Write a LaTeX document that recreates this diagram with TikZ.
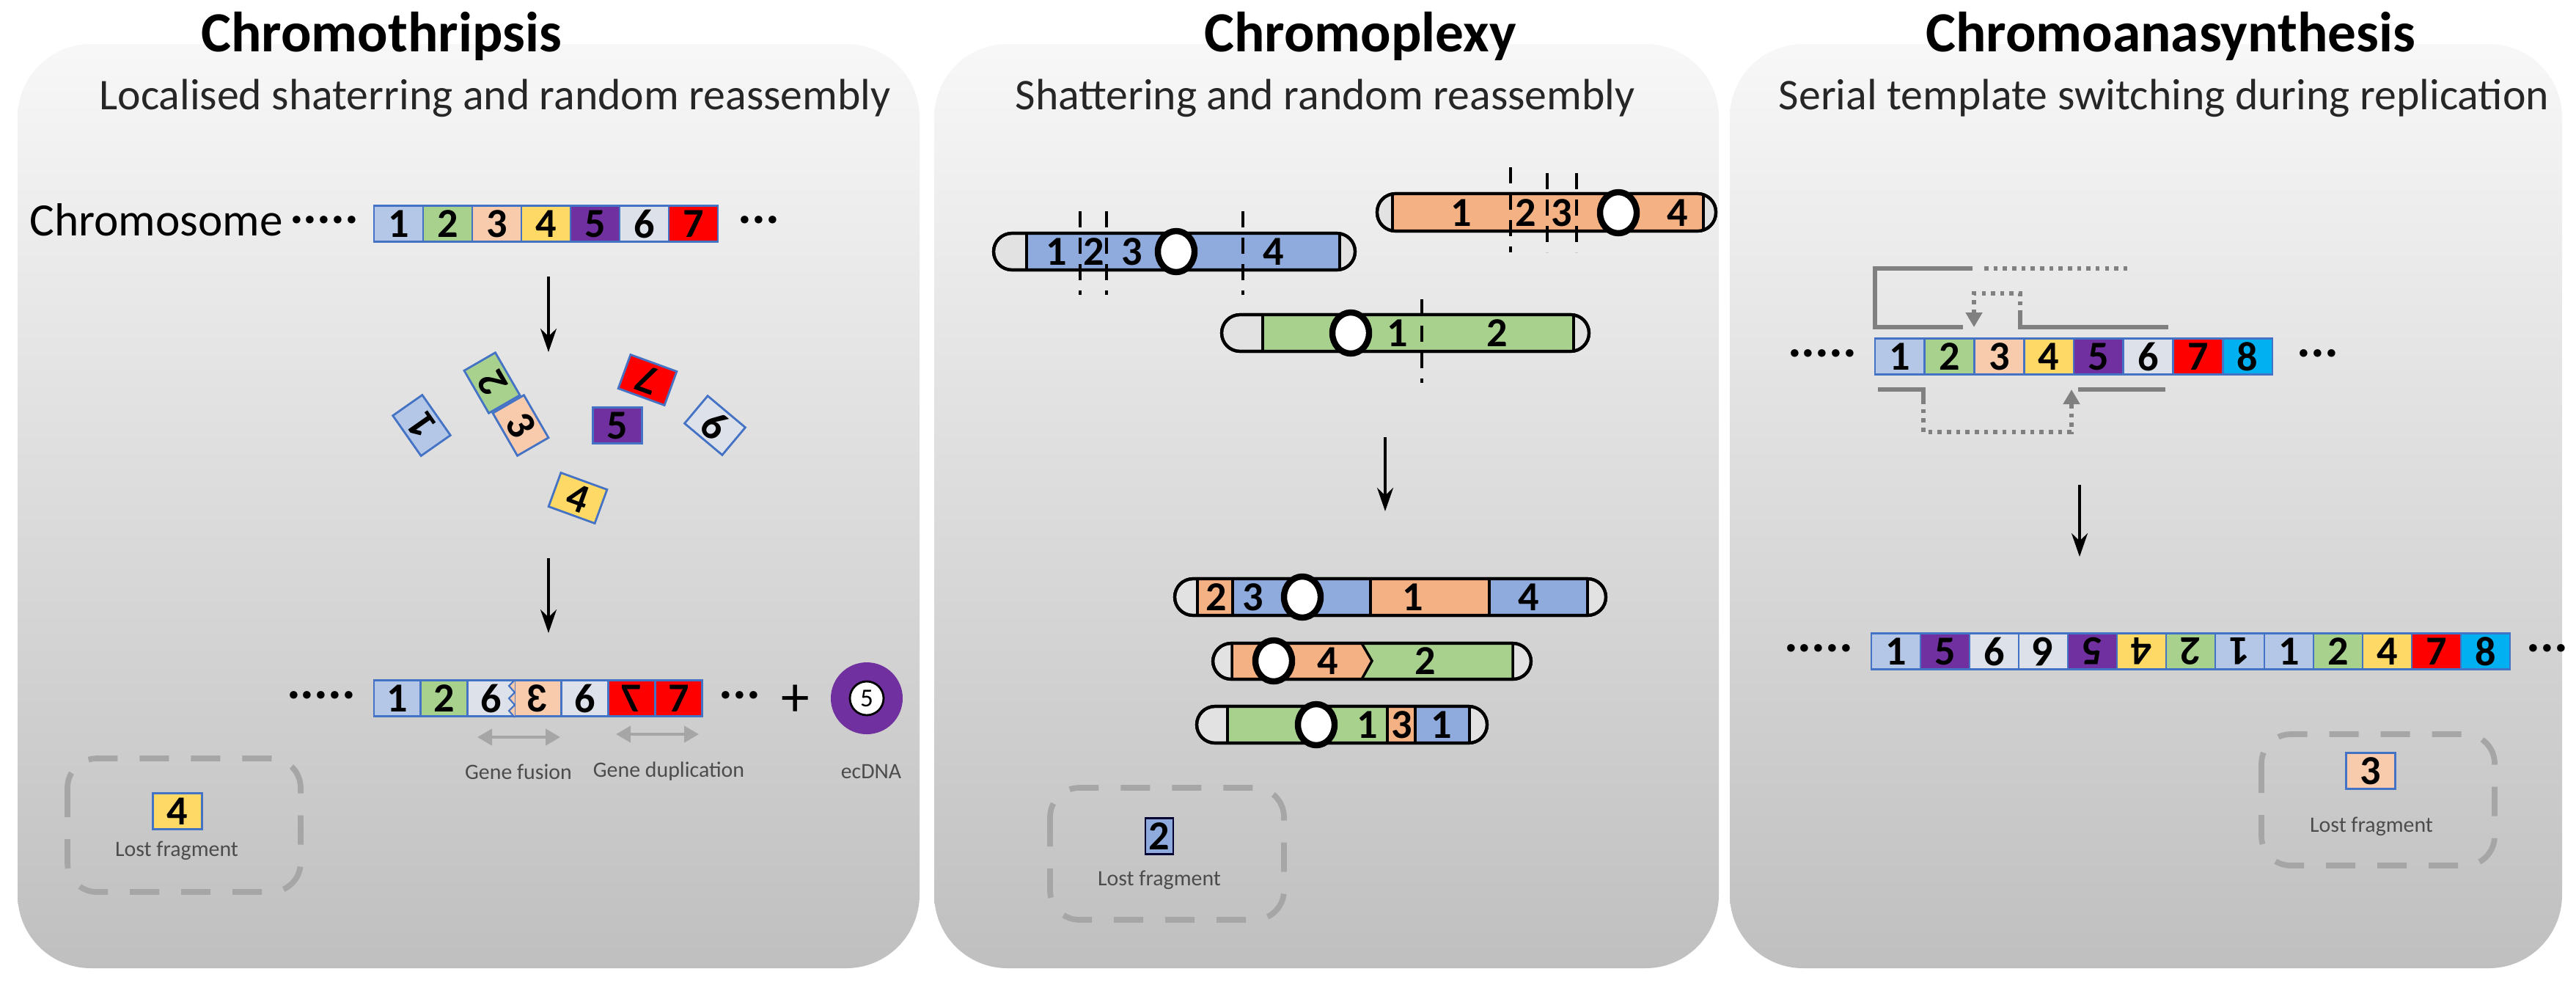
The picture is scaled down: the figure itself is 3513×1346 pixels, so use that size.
\documentclass[tikz,border=0pt]{standalone}
\usepackage{fontspec}
\usepackage{graphicx}
\setmainfont{Carlito}
\usetikzlibrary{shapes.geometric,arrows.meta,positioning}
\definecolor{cb}{HTML}{B4C7E7}
\definecolor{cg}{HTML}{A9D18E}
\definecolor{cp}{HTML}{F8CBAD}
\definecolor{cy}{HTML}{FFD966}
\definecolor{cpu}{HTML}{7030A0}
\definecolor{cgy}{HTML}{DCE1EA}
\definecolor{cr}{HTML}{FF0000}
\definecolor{cc}{HTML}{00B0F0}
\definecolor{bbord}{HTML}{4472C4}
\definecolor{pblue}{HTML}{8FAADC}
\definecolor{porange}{HTML}{F4B183}
\definecolor{capg}{HTML}{E2E2E2}
\definecolor{dgray}{HTML}{A6A6A6}
\definecolor{tgray}{HTML}{808080}
\newcommand{\flipn}[1]{\rotatebox[origin=c]{180}{#1}}
\newcommand{\mirn}[1]{\reflectbox{#1}}

\begin{document}
\begin{tikzpicture}[
	x=0.1mm, y=-0.1mm,
	panel/.style = {rounded corners=10mm, top color=white!97!black,
		middle color=black!9, bottom color=black!25},
	title/.style = {font=\fontsize{22}{26}\selectfont\bfseries},
	sub/.style = {font=\fontsize{17}{20}\selectfont, text=black!85},
	seg/.style = {draw=bbord, line width=0.8pt, minimum width=6.7mm,
		minimum height=4.9mm, inner sep=0pt,
		font=\fontsize{16}{16}\selectfont\bfseries},
	lab/.style = {inner sep=0pt, font=\fontsize{16}{16}\selectfont\bfseries},
	small/.style = {inner sep=0pt, text=black!70, font=\fontsize{8.5}{10}\selectfont},
	dots/.style = {inner sep=0pt, font=\fontsize{20}{20}\selectfont\bfseries},
	lost/.style = {draw=dgray, line width=2.2pt, dash pattern=on 4mm off 3mm,
		rounded corners=4mm},
	arr/.style = {line width=1pt, -{Stealth[length=3.2mm,width=2.2mm]}},
	garr/.style = {draw=dgray, line width=1.2pt,
		{Triangle[length=2mm,width=2.2mm]}-{Triangle[length=2mm,width=2.2mm]}},
	chr/.style = {draw=black, line width=1.2pt, rounded corners=2.5mm},
	cen/.style = {ellipse, draw=black, fill=white, line width=2.4pt,
		minimum width=5mm, minimum height=5.6mm, inner sep=0pt},
	cut/.style = {line width=1.2pt, dash pattern=on 2.2mm off 1.4mm},
	tmpl/.style = {draw=tgray, line width=1.8pt},
	tdot/.style = {draw=tgray, line width=1.6pt, dotted},
	tarr/.style = {tdot, -{Triangle[length=2mm,width=2.2mm,fill=tgray]}}]
	\useasboundingbox (0,0) rectangle (3513,1346);

	% panels
	\shade[panel] (24,60) rectangle (1254,1320);
	\shade[panel] (1274,60) rectangle (2344,1320);
	\shade[panel] (2359,60) rectangle (3494,1320);

	\node[title] (t1) at (520,49) {Chromothripsis};
	\node[title] (t2) at (1855,49) {Chromoplexy};
	\node[title] (t3) at (2960,49) {Chromoanasynthesis};
	\node[sub] (s1) at (675,134) {Localised shaterring and random reassembly};
	\node[sub] (s2) at (1807,134) {Shattering and random reassembly};
	\node[sub] (s3) at (2951,134) {Serial template switching during replication};

	% ---- chromothripsis
	\node[inner sep=0pt, font=\fontsize{18}{20}\selectfont] (chrom) at (213,300) {Chromosome};
	\node[dots] (d1) at (442,300) {.....};
	\foreach \c/\t [count=\i] in {cb/1,cg/2,cp/3,cy/4,cpu/5,cgy/6,cr/7}
		\node[seg, fill=\c] (c\i) at ({476.5+67*\i},305) {\t};
	\node[dots] (d2) at (1035,300) {...};
	\coordinate (a1s) at (748,377);
	\coordinate (a1e) at (748,480);
	\draw[arr] (a1s) -- (a1e);

	\node[seg, fill=cb, rotate=125] (f1) at (575,580) {1};
	\node[seg, fill=cg, rotate=120] (f2) at (671,522) {2};
	\node[seg, fill=cp, rotate=-60] (f3) at (710,580) {3};
	\node[seg, fill=cr, rotate=160] (f7) at (883,518) {7};
	\node[seg, fill=cpu] (f5) at (842,580) {5};
	\node[seg, fill=cgy, rotate=-40] (f6) at (975,580) {6};
	\node[seg, fill=cy, rotate=-20] (f4) at (788,679) {4};

	\coordinate (a2s) at (748,761);
	\coordinate (a2e) at (748,863);
	\draw[arr] (a2s) -- (a2e);

	\node[dots] (d3) at (438,948) {.....};
	\foreach \c/\t [count=\i] in {cb/1,cg/2,cgy/6,cp/{\mirn{3}},cgy/6,cr/{\mirn{7}},cr/7}
		\node[seg, fill=\c, minimum width=6.39mm] (r\i) at ({478+63.9*\i},952) {\t};
	\draw[draw=bbord, fill=cp, line width=0.6pt] (702,927) -- (694,935) -- (702,944)
		-- (694,952) -- (702,961) -- (694,969) -- (702,978);
	\node[dots] (d4) at (1009,948) {...};
	\node[inner sep=0pt, font=\fontsize{22}{22}\selectfont] (plus) at (1085,955) {+};
	\node[circle, fill=cpu, minimum size=9.8mm, inner sep=0pt] (ec) at (1182,952) {};
	\node[circle, fill=white, draw=black, line width=0.8pt, minimum size=4.6mm,
		inner sep=0pt, font=\fontsize{10}{10}\selectfont] (ec5) at (ec) {5};
	\draw[garr] (651,1005) -- (764,1005);
	\draw[garr] (840,1001) -- (953,1001);
	\node[small] (gf) at (707,1052) {Gene fusion};
	\node[small] (gd) at (912,1052) {Gene duplication};
	\node[small] (ecl) at (1188,1052) {ecDNA};

	\draw[lost] (92,1034) rectangle (410,1216);
	\node[seg, fill=cy] (l1) at (242,1106) {4};
	\node[small] (l1t) at (241,1160) {Lost fragment};

	% ---- chromoplexy
	% blue
	\draw[chr, fill=capg] (1355,318) rectangle (1848,368);
	\fill[pblue] (1400,318) rectangle (1827,368);
	\draw[chr] (1355,318) rectangle (1848,368);
	\draw[line width=1.2pt] (1400,318) -- (1400,368) (1827,318) -- (1827,368);
	\node[lab] (b1) at (1441,343) {1};
	\node[lab] (b2) at (1492,343) {2};
	\node[lab] (b3) at (1544,343) {3};
	\node[lab] (b4) at (1737,343) {4};
	\node[cen] (bc) at (1604,343) {};
	\draw[cut] (1473,288) -- (1473,402);
	\draw[cut] (1509,288) -- (1509,402);
	\draw[cut] (1695,288) -- (1695,402);
	% orange
	\draw[chr, fill=capg] (1878,264) rectangle (2340,315);
	\fill[porange] (1899,264) rectangle (2323,315);
	\draw[chr] (1878,264) rectangle (2340,315);
	\draw[line width=1.2pt] (1899,264) -- (1899,315) (2323,264) -- (2323,315);
	\node[lab] (o1) at (1993,290) {1};
	\node[lab] (o2) at (2081,290) {2};
	\node[lab] (o3) at (2130,290) {3};
	\node[lab] (o4) at (2288,290) {4};
	\node[cen] (oc) at (2207,290) {};
	\draw[cut] (2060,228) -- (2060,344);
	\draw[cut] (2110,236) -- (2110,344);
	\draw[cut] (2150,236) -- (2150,344);
	% green
	\draw[chr, fill=capg] (1666,429) rectangle (2167,479);
	\fill[cg] (1722,429) rectangle (2146,479);
	\draw[chr] (1666,429) rectangle (2167,479);
	\draw[line width=1.2pt] (1722,429) -- (1722,479) (2146,429) -- (2146,479);
	\node[lab] (g1) at (1906,454) {1};
	\node[lab] (g2) at (2042,454) {2};
	\node[cen] (gc) at (1842,454) {};
	\draw[cut] (1939,408) -- (1939,522);

	\coordinate (a3s) at (1889,596);
	\coordinate (a3e) at (1889,697);
	\draw[arr] (a3s) -- (a3e);

	% result 1
	\draw[chr, fill=capg] (1602,789) rectangle (2190,839);
	\fill[porange] (1633,789) rectangle (1681,839);
	\fill[pblue] (1681,789) rectangle (1869,839);
	\fill[porange] (1869,789) rectangle (2031,839);
	\fill[pblue] (2031,789) rectangle (2165,839);
	\draw[chr] (1602,789) rectangle (2190,839);
	\draw[line width=1pt] (1633,789) -- (1633,839) (1681,789) -- (1681,839)
		(1869,789) -- (1869,839) (2031,789) -- (2031,839) (2165,789) -- (2165,839);
	\node[lab] (x2) at (1659,814) {2};
	\node[lab] (x3) at (1709,814) {3};
	\node[lab] (x1) at (1927,814) {1};
	\node[lab] (x4) at (2085,814) {4};
	\node[cen] (xc) at (1776,814) {};
	% result 2
	\draw[chr, fill=capg] (1654,877) rectangle (2088,926);
	\fill[porange] (1680,877) -- (1857,877) -- (1871,901) -- (1857,926) -- (1680,926) -- cycle;
	\fill[cg] (1857,877) -- (2063,877) -- (2063,926) -- (1857,926) -- (1871,901) -- cycle;
	\draw[chr] (1654,877) rectangle (2088,926);
	\draw[line width=1pt] (1680,877) -- (1680,926) (2063,877) -- (2063,926)
		(1857,877) -- (1871,901) -- (1857,926);
	\node[lab] (y4) at (1811,901) {4};
	\node[lab] (y2) at (1944,901) {2};
	\node[cen] (yc) at (1737,901) {};
	% result 3
	\draw[chr, fill=capg] (1632,963) rectangle (2028,1013);
	\fill[cg] (1674,963) rectangle (1892,1013);
	\fill[porange] (1892,963) rectangle (1930,1013);
	\fill[pblue] (1930,963) rectangle (2004,1013);
	\draw[chr] (1632,963) rectangle (2028,1013);
	\draw[line width=1pt] (1674,963) -- (1674,1013) (1892,963) -- (1892,1013)
		(1930,963) -- (1930,1013) (2004,963) -- (2004,1013);
	\node[lab] (z1) at (1865,988) {1};
	\node[lab] (z3) at (1912,988) {3};
	\node[lab] (z5) at (1966,988) {1};
	\node[cen] (zc) at (1795,988) {};

	\draw[lost] (1432,1074) rectangle (1751,1254);
	\node[seg, fill=pblue, draw=black!80!blue, minimum width=3.8mm] (l2) at (1581,1140) {2};
	\node[small] (l2t) at (1581,1200) {Lost fragment};

	% ---- chromoanasynthesis
	\node[dots] (d5) at (2485,482) {.....};
	\foreach \c/\t [count=\i] in {cb/1,cg/2,cp/3,cy/4,cpu/5,cgy/6,cr/7,cc/8}
		\node[seg, fill=\c, minimum width=6.775mm] (m\i) at ({2523.1+67.75*\i},486) {\t};
	\node[dots] (d6) at (3161,482) {...};
	% template switching
	\draw[tmpl] (2690,366) -- (2557,366) -- (2557,446) -- (2677,446);
	\draw[tdot] (2706,366) -- (2901,366);
	\draw[tmpl] (2755,429) -- (2755,446) -- (2957,446);
	\draw[tarr] (2755,429) -- (2755,400) -- (2692,400) -- (2692,446);
	\draw[tmpl] (2561,531) -- (2623,531) -- (2623,545);
	\draw[tarr] (2623,545) -- (2623,589) -- (2825,589) -- (2825,531);
	\draw[tmpl] (2834,531) -- (2953,531);

	\coordinate (a4s) at (2836,661);
	\coordinate (a4e) at (2836,759);
	\draw[arr] (a4s) -- (a4e);

	\node[dots] (d7) at (2480,884) {.....};
	\foreach \c/\t [count=\i] in {cb/1,cpu/5,cgy/6,cgy/{\flipn{6}},cpu/{\flipn{5}},
			cy/{\flipn{4}},cg/{\flipn{2}},cb/{\flipn{1}},cb/1,cg/2,cy/4,cr/7,cc/8}
		\node[seg, fill=\c] (n\i) at ({2518.5+67*\i},888) {\t};
	\node[dots] (d8) at (3474,884) {...};

	\draw[lost] (3084,1001) rectangle (3402,1180);
	\node[seg, fill=cp] (l3) at (3233,1051) {3};
	\node[small] (l3t) at (3234,1127) {Lost fragment};
\end{tikzpicture}
\end{document}
